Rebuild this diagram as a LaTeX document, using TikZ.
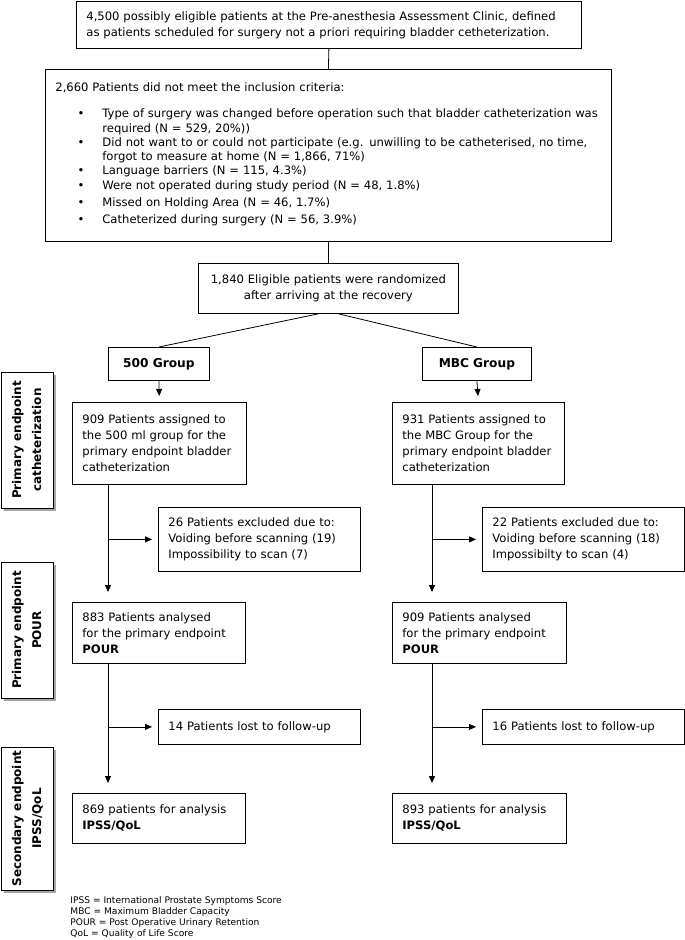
\documentclass[tikz,border=0pt]{standalone}
\usepackage{fontspec}
\setmainfont{DejaVu Sans}
\usetikzlibrary{positioning,arrows.meta,shadows}
\begin{document}
\begin{tikzpicture}[x=1pt,y=-1pt,line width=0.8pt,font=\fontsize{11.6}{16}\selectfont]
\tikzstyle{box}=[draw,anchor=north west,inner xsep=10pt,inner ysep=0pt,align=left]
\tikzstyle{side}=[draw,fill=white,minimum width=52pt,inner sep=0pt,font=\fontsize{12}{20}\selectfont\bfseries,drop shadow={shadow xshift=3pt,shadow yshift=-3pt,fill=black!35,opacity=1}]
\tikzstyle{arr}=[-{Triangle[length=7pt,width=6pt]},shorten >=6pt]
\useasboundingbox (0,0) rectangle (685,940);
\node[box,text width=485pt,minimum height=47pt] (clinic) at (76,1) {4,500 possibly eligible patients at the Pre-anesthesia Assessment Clinic, defined\\as patients scheduled for surgery not a priori requiring bladder cetheterization.};
\node[box,text width=546pt,minimum height=172pt] (excl) at (45,69) {\fontsize{11.6}{14.3}\selectfont
2,660 Patients did not meet the inclusion criteria:\par\vspace{10pt}
\begin{list}{\textbullet}{\setlength{\leftmargin}{47pt}\setlength{\labelsep}{18pt}\setlength{\itemsep}{0pt}\setlength{\parsep}{0pt}\setlength{\topsep}{0pt}\setlength{\rightmargin}{-20pt}}
\item Type of surgery was changed before operation such that bladder catheterization was\newline required (N = 529, 20\%))
\item Did not want to or could not participate (e.g. unwilling to be catheterised, no time,\newline forgot to measure at home (N = 1,866, 71\%)
\item Language barriers (N = 115, 4.3\%)
\item Were not operated during study period (N = 48, 1.8\%)
\setlength{\itemsep}{3pt}
\item Missed on Holding Area (N = 46, 1.7\%)
\item Catheterized during surgery (N = 56, 3.9\%)
\end{list}\vspace{14pt}};
\node[box,align=center,text width=240pt,minimum height=50pt] (rand) at (198,263) {1,840 Eligible patients were randomized\\after arriving at the recovery};
\node[box,align=center,text width=81pt,minimum height=33pt,font=\fontsize{12.2}{16}\selectfont\bfseries] (g500) at (108,347) {500 Group};
\node[box,align=center,text width=89pt,minimum height=33pt,font=\fontsize{12.2}{16}\selectfont\bfseries] (gmbc) at (422,347) {MBC Group};
\node[box,text width=154pt,minimum height=82pt] (a500) at (72,402) {909 Patients assigned to\\the 500 ml group for the\\primary endpoint bladder\\catheterization};
\node[box,text width=152pt,minimum height=82pt] (ambc) at (392,402) {931 Patients assigned to\\the MBC Group for the\\primary endpoint bladder\\catheterization};
\node[box,text width=182pt,minimum height=64pt] (ex500) at (158,507) {26 Patients excluded due to:\\Voiding before scanning (19)\\Impossibility to scan (7)};
\node[box,text width=182pt,minimum height=64pt] (exmbc) at (482,507) {22 Patients excluded due to:\\Voiding before scanning (18)\\Impossibilty to scan (4)};
\node[box,text width=153pt,minimum height=61pt] (p500) at (72,602) {883 Patients analysed\\for the primary endpoint\\\textbf{POUR}};
\node[box,text width=154pt,minimum height=61pt] (pmbc) at (392,602) {909 Patients analysed\\for the primary endpoint\\\textbf{POUR}};
\node[box,text width=182pt,minimum height=35pt] (lost500) at (158,709) {14 Patients lost to follow-up\\[-7pt]};
\node[box,text width=182pt,minimum height=35pt] (lostmbc) at (482,709) {16 Patients lost to follow-up\\[-7pt]};
\node[box,text width=153pt,minimum height=50pt] (s500) at (72,793) {869 patients for analysis\\\textbf{IPSS/QoL}\\[-8pt]};
\node[box,text width=154pt,minimum height=50pt] (smbc) at (392,793) {893 patients for analysis\\\textbf{IPSS/QoL}\\[-8pt]};
\node[side,minimum height=136pt] (sidecath) at (27,440) {\rotatebox{90}{\begin{tabular}{@{}c@{}}Primary endpoint\\catheterization\end{tabular}}};
\node[side,minimum height=136pt] (sidepour) at (27,630) {\rotatebox{90}{\begin{tabular}{@{}c@{}}Primary endpoint\\POUR\end{tabular}}};
\node[side,minimum height=143pt] (sideipss) at (27,818.5) {\rotatebox{90}{\begin{tabular}{@{}c@{}}Secondary endpoint\\IPSS/QoL\end{tabular}}};
\node[anchor=north west,align=left,inner sep=0pt,font=\fontsize{9.1}{11}\selectfont] (abbr) at (70,896) {IPSS = International Prostate Symptoms Score\\MBC = Maximum Bladder Capacity\\POUR = Post Operative Urinary Retention\\QoL = Quality of Life Score};
\draw (clinic.south) -- (excl.north);
\draw (excl.south) -- (rand.north);
\draw ([xshift=-10pt]rand.south) -- (g500.north);
\draw ([xshift=10pt]rand.south) -- (gmbc.north);
\draw[arr] (g500.south) -- (a500.north);
\draw[arr] (gmbc.south) -- (ambc.north);
\coordinate (v500) at ([xshift=36pt]a500.south west);
\coordinate (vmbc) at ([xshift=40pt]ambc.south west);
\coordinate (w500) at ([xshift=36pt]p500.south west);
\coordinate (wmbc) at ([xshift=40pt]pmbc.south west);
\draw[arr,shorten >=10pt] (v500) -- (v500 |- p500.north);
\draw[arr,shorten >=10pt] (vmbc) -- (vmbc |- pmbc.north);
\draw[arr] (v500 |- ex500.west) -- (ex500.west);
\draw[arr] (vmbc |- exmbc.west) -- (exmbc.west);
\draw[arr,shorten >=10pt] (w500) -- (w500 |- s500.north);
\draw[arr,shorten >=10pt] (wmbc) -- (wmbc |- smbc.north);
\draw[arr] (w500 |- lost500.west) -- (lost500.west);
\draw[arr] (wmbc |- lostmbc.west) -- (lostmbc.west);
\end{tikzpicture}
\end{document}
